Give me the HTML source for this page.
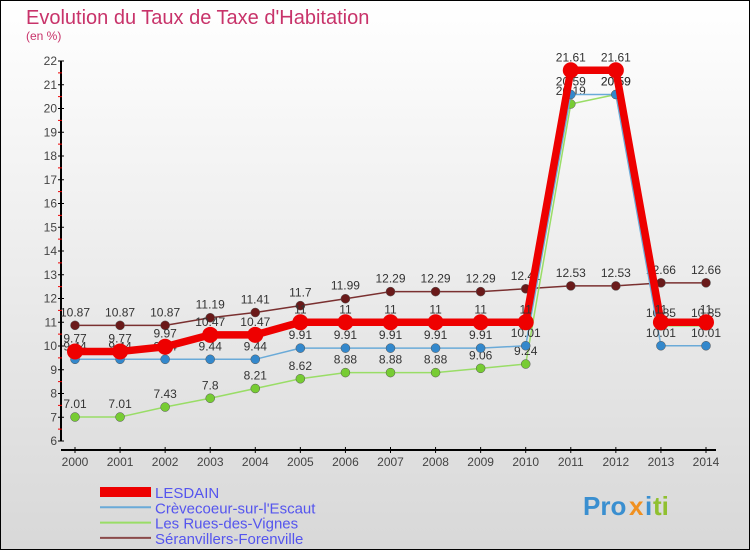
<!DOCTYPE html>
<html><head><meta charset="utf-8"><style>
body{margin:0}
svg{display:block;font-family:"Liberation Sans",sans-serif}
</style></head><body>
<svg width="750" height="550" viewBox="0 0 750 550">
<defs><linearGradient id="bg" x1="0" y1="0" x2="0" y2="1"><stop offset="0" stop-color="#ffffff"/><stop offset="1" stop-color="#d8d8d8"/></linearGradient></defs>
<rect x="0.5" y="0.5" width="749" height="549" fill="url(#bg)" stroke="#000"/>
<text x="26" y="24" font-size="20" fill="#c8336a">Evolution du Taux de Taxe d'Habitation</text>
<text x="26" y="40" font-size="12" fill="#c8336a">(en %)</text>
<g id="axes"></g>
<g id="series"></g>
<g id="legend"></g>
<g font-size="26" font-weight="bold">
<text x="583" y="515" fill="#3a8fd0">Pro</text><text x="629" y="515" fill="#f09020">x</text><text x="645" y="515" fill="#3a8fd0">i</text><text x="653" y="515" fill="#90c030">ti</text>
</g>
</svg>
<script>
const years=[2000,2001,2002,2003,2004,2005,2006,2007,2008,2009,2010,2011,2012,2013,2014];
const lesdain=[9.77,9.77,9.97,10.47,10.47,11,11,11,11,11,11,21.61,21.61,11,11];
const crevecoeur=[9.44,9.44,9.44,9.44,9.44,9.91,9.91,9.91,9.91,9.91,10.01,20.59,20.59,10.01,10.01];
const rues=[7.01,7.01,7.43,7.8,8.21,8.62,8.88,8.88,8.88,9.06,9.24,20.19,20.59,10.85,10.85];
const seran=[10.87,10.87,10.87,11.19,11.41,11.7,11.99,12.29,12.29,12.29,12.41,12.53,12.53,12.66,12.66];
const yTicks=[6,7,8,9,10,11,12,13,14,15,16,17,18,19,20,21,22];
const NS='http://www.w3.org/2000/svg';
const X=i=>75+i*(706-75)/(years.length-1);
const Y=v=>441-(v-6)*(380/16);
function mk(t,a,p){const e=document.createElementNS(NS,t);for(const k in a)e.setAttribute(k,a[k]);p.appendChild(e);return e;}
const ax=document.getElementById('axes');
let l=mk('line',{x1:61,y1:61,x2:61,y2:441,stroke:'#000','stroke-width':2},ax);


l=mk('line',{x1:61,y1:450,x2:716,y2:450,stroke:'#000','stroke-width':2},ax);


yTicks.forEach(v=>{
 mk('line',{x1:58,y1:Y(v),x2:64,y2:Y(v),stroke:'#000'},ax);
 if(v<22)mk('line',{x1:58,y1:Y(v+0.5),x2:62,y2:Y(v+0.5),stroke:'#e00'},ax);
 const t=mk('text',{x:57,y:Y(v)+4,'font-size':12,fill:'#444','text-anchor':'end'},ax);t.textContent=v;
 
 
});
years.forEach((y,i)=>{
 mk('line',{x1:X(i),y1:447,x2:X(i),y2:453,stroke:'#000'},ax);
 const t=mk('text',{x:X(i),y:466,'font-size':12,fill:'#444','text-anchor':'middle'},ax);t.textContent=y;
 
 
});
const sg=document.getElementById('series');
function draw(vals,color,w,r,name,dot){
 const g=mk('g',{},sg);
 
 
 mk('polyline',{points:vals.map((v,i)=>X(i)+','+Y(v)).join(' '),fill:'none',stroke:color,'stroke-width':w,'stroke-linejoin':'round'},g);
 vals.forEach((v,i)=>{
  const c=mk('circle',{cx:X(i),cy:Y(v),r:r,fill:dot,stroke:dot==='#e00'?'none':'#555','stroke-width':0.5},g);
  
  
  const t=mk('text',{x:X(i),y:Y(v)-9,'font-size':12,fill:'#333','text-anchor':'middle'},g);t.textContent=v;
 });
}
draw(seran,'#7a3030',1.5,4.5,'series-seranvillers','#6a1a1a');
draw(rues,'#99dd66',1.5,4.5,'series-rues-des-vignes','#77cc33');
draw(crevecoeur,'#6aaad8',1.5,4.5,'series-crevecoeur','#3388cc');
draw(lesdain,'#ee0000',7.5,8,'series-lesdain','#e00');
const lg=document.getElementById('legend');
[['LESDAIN','#ee0000',10],['Crèvecoeur-sur-l\'Escaut','#6aaad8',2],['Les Rues-des-Vignes','#99dd66',2],['Séranvillers-Forenville','#8a4a4a',2]].forEach((d,i)=>{
 const y=492+i*15.3;
 const g=mk('g',{},lg);
 
 
 mk('line',{x1:100,y1:y,x2:151,y2:y,stroke:d[1],'stroke-width':d[2]},g);
 const t=mk('text',{x:155,y:y+6,'font-size':15,fill:'#5555ee'},g);t.textContent=d[0];
});
</script>
</body></html>
